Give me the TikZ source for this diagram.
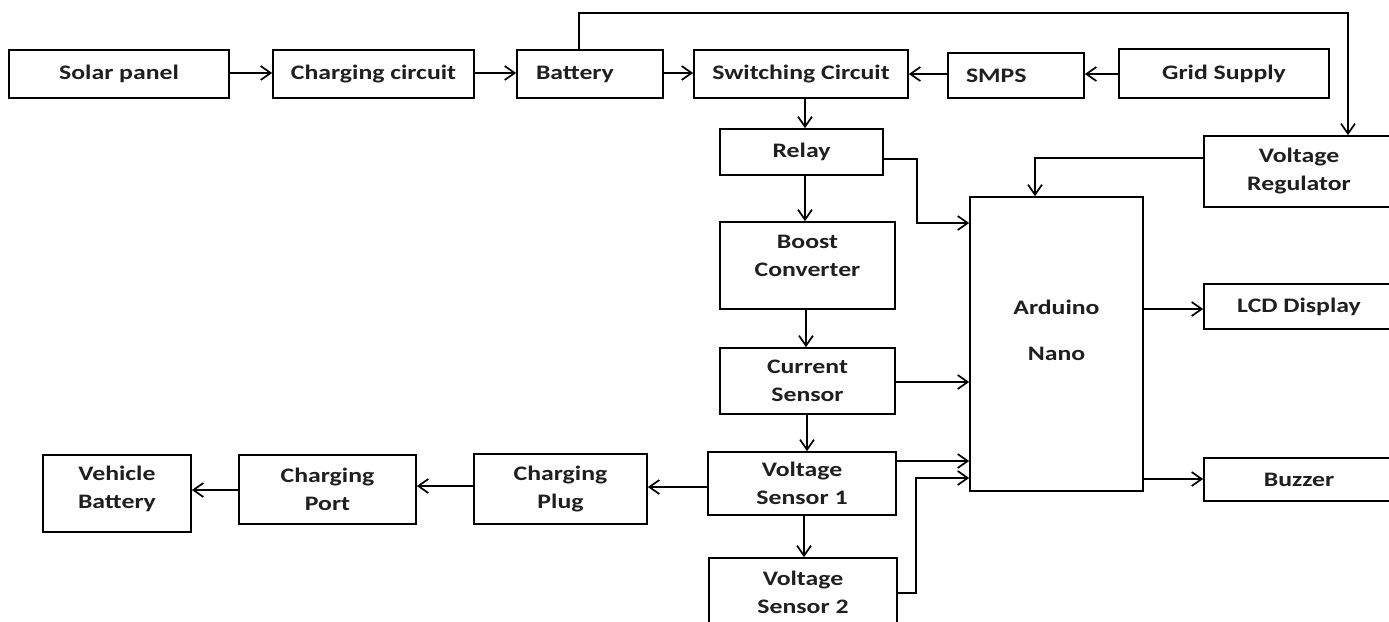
\documentclass[tikz,border=0pt]{standalone}
\usepackage{fontspec}
\setmainfont{Carlito}[FakeStretch=1.25]
\usetikzlibrary{arrows.meta}
\begin{document}
\begin{tikzpicture}[x=1pt,y=-1pt,
  blk/.style={draw, line width=1.7pt, inner sep=0pt, align=center,
    font=\fontsize{20.6}{28}\selectfont\bfseries, text=black!88},
  txt/.style={inner sep=0pt, align=center, font=\fontsize{20.6}{28}\selectfont\bfseries, text=black!88},
  arr/.style={line width=1.7pt, -{Straight Barb[length=10pt,width=14pt]}}]
\useasboundingbox (0,0) rectangle (1389,621);
\clip (0,0) rectangle (1389,621);
% top row
\node[blk, minimum width=220pt, minimum height=48pt] (solar) at (119,74) {Solar panel};
\node[blk, minimum width=201pt, minimum height=48pt] (chgc) at (373.5,74) {Charging circuit};
\node[blk, minimum width=146pt, minimum height=48pt, inner xsep=19pt, text width=108pt, align=left] (batt) at (590,74) {Battery};
\node[blk, minimum width=214pt, minimum height=48pt] (swc) at (801,74) {Switching Circuit};
\node[blk, minimum width=136pt, minimum height=45pt, inner xsep=18pt, text width=100pt, align=left] (smps) at (1016,75.5) {SMPS};
\node[blk, minimum width=210pt, minimum height=49pt] (grid) at (1224,73.5) {Grid Supply};
% middle column
\node[blk, minimum width=163pt, minimum height=46pt] (relay) at (801.5,152) {Relay};
\node[blk, minimum width=175pt, minimum height=87pt] (boost) at (807.5,265.5) {};
\node[txt] (boostt) at (807.5,256) {Boost\\Converter};
\node[blk, minimum width=175pt, minimum height=66pt] (cur) at (807.5,381) {Current\\Sensor};
\node[blk, minimum width=188pt, minimum height=63pt] (vs1) at (802,483.5) {Voltage\\Sensor 1};
\node[blk, minimum width=188pt, minimum height=68pt] (vs2) at (803,592) {Voltage\\Sensor 2};
% bottom left row
\node[blk, minimum width=173pt, minimum height=70pt] (plug) at (560.5,489) {Charging\\Plug};
\node[blk, minimum width=177pt, minimum height=69pt] (port) at (327.5,489.5) {Charging\\Port};
\node[blk, minimum width=148pt, minimum height=77pt] (vbat) at (117,493.5) {};
\node[txt] (vbatt) at (117,489) {Vehicle\\Battery};
% right side
\node[blk, minimum width=173pt, minimum height=294pt] (ard) at (1056.5,344) {};
\node[txt] (ardt) at (1056.5,330) {Arduino\\[18pt]Nano};
\node[blk, minimum width=190pt, minimum height=71pt] (vreg) at (1299,171.5) {Voltage\\Regulator};
\node[blk, minimum width=190pt, minimum height=45pt] (lcd) at (1299,306.5) {LCD Display};
\node[blk, minimum width=190pt, minimum height=43pt] (buzz) at (1299,479.5) {Buzzer};
% coordinates
\coordinate (c1) at (579,13);
\coordinate (c2) at (1348,13);
\coordinate (xa) at (805,0);
\coordinate (xb) at (806,0);
\coordinate (xc) at (807,0);
\coordinate (xd) at (804,0);
\coordinate (r1) at (917,159);
\coordinate (r2) at (917,223);
\coordinate (v1) at (1035,158);
\coordinate (s2) at (916,593);
\coordinate (s3) at (916,478);
% connectors top row
\draw[arr] (solar.east |- 0,73) -- (chgc.west |- 0,73);
\draw[arr] (chgc.east |- 0,73) -- (batt.west |- 0,73);
\draw[arr] (batt.east |- 0,73) -- (swc.west |- 0,73);
\draw[arr] (smps.west |- 0,74) -- (swc.east |- 0,74);
\draw[arr] (grid.west |- 0,74) -- (smps.east |- 0,74);
\draw[arr] (batt.north -| c1) -- (c1) -- (c2) -- (vreg.north -| c2);
% vertical chain
\draw[arr] (swc.south -| xa) -- (relay.north -| xa);
\draw[arr] (relay.south -| xa) -- (boost.north -| xa);
\draw[arr] (boost.south -| xb) -- (cur.north -| xb);
\draw[arr] (cur.south -| xc) -- (vs1.north -| xc);
\draw[arr] (vs1.south -| xd) -- (vs2.north -| xd);
% into arduino
\draw[arr] (relay.east |- r1) -- (r1) -- (r2) -- (ard.west |- r2);
\draw[arr] (vreg.west |- v1) -- (v1) -- (ard.north -| v1);
\draw[arr] (cur.east |- 0,382) -- (ard.west |- 0,382);
\draw[arr] (vs1.east |- 0,461) -- (ard.west |- 0,461);
\draw[arr] (vs2.east |- s2) -- (s2) -- (s3) -- (ard.west |- s3);
% out of arduino
\draw[arr] (ard.east |- 0,309) -- (lcd.west |- 0,309);
\draw[arr] (ard.east |- 0,479) -- (buzz.west |- 0,479);
% bottom row
\draw[arr] (vs1.west |- 0,487) -- (plug.east |- 0,487);
\draw[arr] (plug.west |- 0,486) -- (port.east |- 0,486);
\draw[arr] (port.west |- 0,490) -- (vbat.east |- 0,490);
\end{tikzpicture}
\end{document}
